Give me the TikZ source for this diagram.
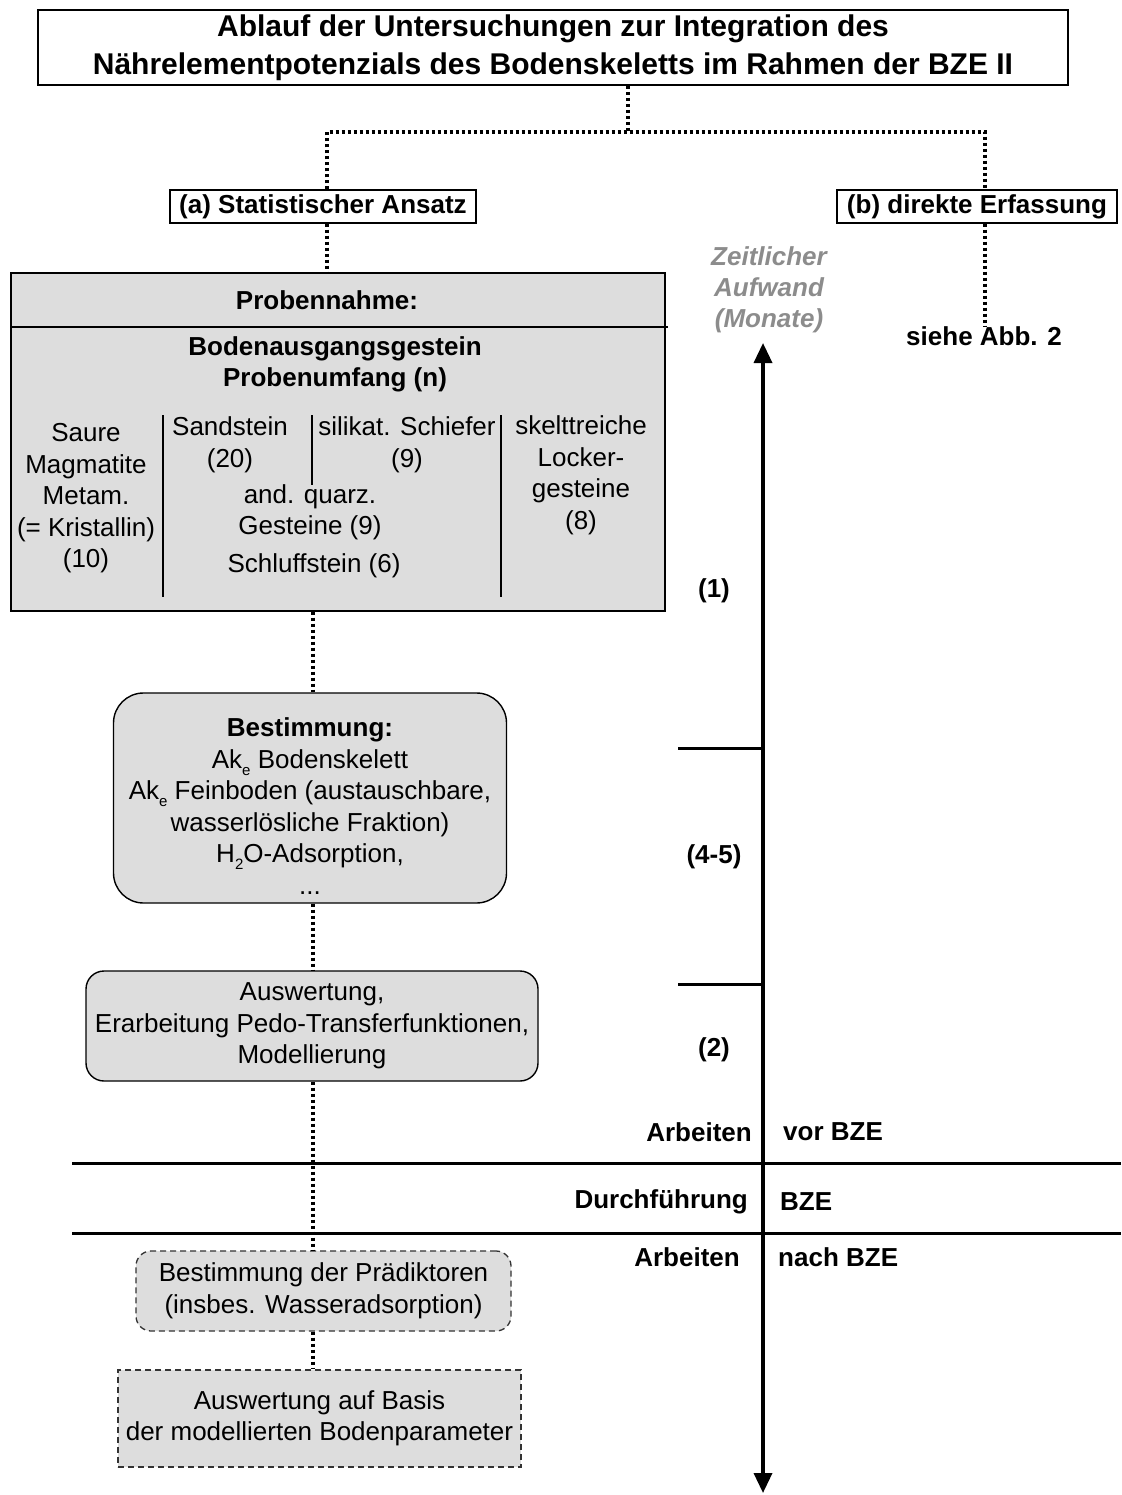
\documentclass[tikz,border=0pt]{standalone}
\usepackage{fontspec}
\setmainfont{Liberation Sans}
\usetikzlibrary{arrows.meta}
\definecolor{boxgray}{RGB}{221,221,221}
\definecolor{axgray}{RGB}{140,140,140}
\newcommand\sbs[1]{\raisebox{-0.28em}{\fontsize{15}{15}\selectfont #1}}
\begin{document}
\begin{tikzpicture}[x=1pt,y=-1pt,
  reg/.style={font=\fontsize{26}{31.5}\selectfont, align=center, inner sep=0pt},
  bld/.style={font=\bfseries\fontsize{26}{31}\selectfont, align=center, inner sep=0pt},
  ttl/.style={font=\bfseries\fontsize{30}{38}\selectfont, align=center, inner sep=0pt},
  dotline/.style={line width=3.2pt, dash pattern=on 3pt off 3pt},
  solidbox/.style={draw, line width=1.4pt, inner sep=0pt},
  graybox/.style={draw, fill=boxgray, line width=1.4pt, inner sep=0pt},
  dashbox/.style={draw=black!80, fill=boxgray, line width=1.3pt, dash pattern=on 6pt off 4pt, inner sep=0pt},
  thickline/.style={line width=3pt},
  axlbl/.style={font=\bfseries\fontsize{26}{31}\selectfont, inner sep=0pt}
]
\useasboundingbox (0,0) rectangle (1121,1495);

% title
\node[solidbox, line width=1.8pt, minimum width=1030pt, minimum height=75pt, ttl] (title) at (553,47.5)
  {Ablauf der Untersuchungen zur Integration des\\N\"ahrelementpotenzials des Bodenskeletts im Rahmen der BZE II};
\coordinate (J) at (628,132);
\coordinate (ax) at (327,0);
\coordinate (bx) at (985,0);

% branches
\node[solidbox, minimum width=306pt, minimum height=33pt, bld] (a) at (323,206.5) {(a) Statistischer Ansatz};
\node[solidbox, minimum width=280pt, minimum height=33pt, bld] (b) at (977,206.5) {(b) direkte Erfassung};
\draw[dotline] (title.south -| J) -- (J);
\draw[dotline] (a.north -| ax) |- (J) -| (b.north -| bx);

\node[bld] (siehe) at (984,336) {siehe Abb. 2};
\draw[dotline] (b.south -| bx) -- (siehe.north -| bx);

% Probennahme box
\node[graybox, minimum width=654pt, minimum height=338pt] (probe) at (338,442) {};
\draw[line width=1.4pt] (11,327) -- (668,327);
\node[bld] (pn) at (327,300) {Probennahme:};
\node[bld] (bag) at (335,364.5) {Bodenausgangsgestein\\Probenumfang (n)};
\draw[line width=1.4pt] (163,415) -- (163,597);
\draw[line width=1.4pt] (312,415) -- (312,485);
\draw[line width=1.4pt] (501,415) -- (501,597);
\node[reg] (c1) at (86,498.5) {Saure\\Magmatite\\Metam.\\(= Kristallin)\\(10)};
\node[reg] (c2) at (230,445) {Sandstein\\(20)};
\node[reg] (c3) at (407,445) {silikat. Schiefer\\(9)};
\node[reg] (c4) at (310,512.5) {and. quarz.\\Gesteine (9)};
\node[reg] (c5) at (314,566) {Schluffstein (6)};
\node[reg] (c6) at (581,475.5) {skelttreiche\\Locker-\\gesteine\\(8)};
\draw[dotline] (a.south -| ax) -- (probe.north -| ax);

% Bestimmung
\node[graybox, rounded corners=30pt, minimum width=393pt, minimum height=210pt] (best) at (310,798) {};
\node[reg] (besttxt) at (310,806) {{\bfseries Bestimmung:}\\Ak\sbs{e} Bodenskelett\\Ak\sbs{e} Feinboden (austauschbare,\\wasserl\"osliche Fraktion)\\H\sbs{2}O-Adsorption,\\...};
\coordinate (cx) at (313,0);
\draw[dotline] (probe.south -| cx) -- (best.north -| cx);

% Auswertung
\node[graybox, rounded corners=18pt, minimum width=452pt, minimum height=110pt, reg] (ausw) at (312,1026)
  {Auswertung,\\Erarbeitung Pedo-Transferfunktionen,\\Modellierung};
\draw[dotline] (best.south -| cx) -- (ausw.north -| cx);

% dashed boxes
\node[dashbox, rounded corners=15pt, minimum width=375pt, minimum height=80pt, reg] (praed) at (323.5,1291)
  {Bestimmung der Pr\"adiktoren\\(insbes. Wasseradsorption)};
\node[dashbox, minimum width=403pt, minimum height=97pt, reg] (basis) at (319.5,1418.5)
  {Auswertung auf Basis\\der modellierten Bodenparameter};
\draw[dotline] (ausw.south -| cx) -- (praed.north -| cx);
\draw[dotline] (praed.south -| cx) -- (basis.north -| cx);

% time axis
\coordinate (axtop) at (763,343);
\coordinate (axbot) at (763,1493);
\draw[line width=3.5pt, {Triangle[length=20pt,width=18pt]}-{Triangle[length=20pt,width=18pt]}] (axbot) -- (axtop);
\node[font=\bfseries\itshape\fontsize{26}{31}\selectfont, text=axgray, align=center, inner sep=0pt] (zeit) at (769,290) {Zeitlicher\\Aufwand\\(Monate)};
\draw[thickline] (678,748) -- (763,748);
\draw[thickline] (678,984) -- (763,984);
\node[axlbl] (l1) at (714,591) {(1)};
\node[axlbl] (l45) at (714,857) {(4-5)};
\node[axlbl] (l2) at (714,1050) {(2)};

% phase lines
\draw[thickline] (72,1163) -- (1121,1163);
\draw[thickline] (72,1233) -- (1121,1233);
\node[axlbl, anchor=east] (arb1) at (752,1132) {Arbeiten};
\node[axlbl, anchor=west] (vor) at (783,1132) {vor BZE};
\node[axlbl, anchor=east] (durch) at (748,1202) {Durchf\"uhrung};
\node[axlbl, anchor=west] (bze) at (780,1202) {BZE};
\node[axlbl, anchor=east] (arb2) at (740,1257) {Arbeiten};
\node[axlbl, anchor=west] (nach) at (778,1257) {nach BZE};
\end{tikzpicture}
\end{document}
